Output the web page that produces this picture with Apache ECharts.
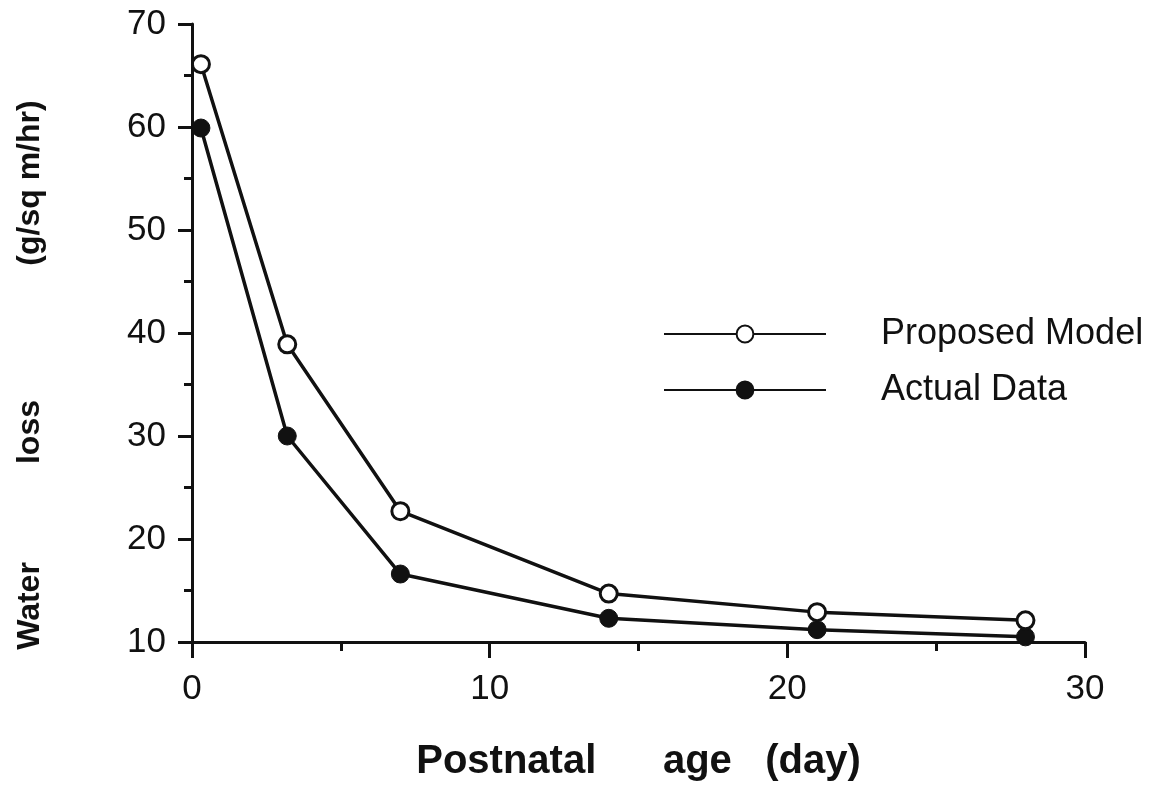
<!DOCTYPE html>
<html>
<head>
<meta charset="utf-8">
<script src="https://cdn.jsdelivr.net/npm/echarts@6/dist/echarts.min.js"></script>
<style>
  html, body { margin: 0; padding: 0; background: #ffffff; }
  #chart { width: 1163px; height: 787px; }
</style>
</head>
<body>
<div id="chart"></div>
<script>
// Postnatal age (days) at which water loss was evaluated
const ageDays = [0.3, 3.2, 7, 14, 21, 28];
// Water loss, g/sq m/hr
const proposedModel = [66.1, 38.9, 22.7, 14.7, 12.9, 12.1];
const actualData = [59.9, 30.0, 16.6, 12.3, 11.2, 10.5];

const seriesNames = ['Proposed Model', 'Actual Data'];
const xAxisTitle = 'Postnatal      age   (day)';
// Words of the vertical axis title, spread along the axis
const yAxisTitleWords = ['Water', 'loss', '(g/sq m/hr)'];

const ink = '#111111';
const fontFamily = '"Liberation Sans", Arial, Helvetica, sans-serif';

const pairs = (xs, ys) => xs.map((x, i) => [x, ys[i]]);

const chart = echarts.init(document.getElementById('chart'), null, { renderer: 'canvas' });

const axisLine = { show: true, lineStyle: { color: ink, width: 3 } };

// Vertical title: each word centred at its own height, read bottom to top
const yTitleCentres = [606, 432, 183];
const yTitleGraphics = yAxisTitleWords.map((word, i) => ({
  type: 'text',
  x: 30,
  y: yTitleCentres[i],
  rotation: Math.PI / 2,
  style: {
    text: word,
    fill: ink,
    font: 'bold 32px ' + fontFamily,
    textAlign: 'center',
    textVerticalAlign: 'middle'
  }
}));

chart.setOption({
  backgroundColor: '#ffffff',
  animation: false,
  grid: { left: 192, right: 78, top: 24, bottom: 144, containLabel: false },
  xAxis: {
    type: 'value',
    min: 0, max: 30, interval: 10,
    axisLine: axisLine,
    axisTick: { show: true, inside: false, length: 16, lineStyle: { color: ink, width: 3 } },
    minorTick: { show: true, splitNumber: 2, length: 9, lineStyle: { color: ink, width: 3 } },
    splitLine: { show: false },
    minorSplitLine: { show: false },
    axisLabel: { color: ink, fontSize: 35, fontFamily: fontFamily, margin: 30 },
    name: xAxisTitle,
    nameLocation: 'middle',
    nameGap: 100,
    nameTextStyle: { color: ink, fontSize: 40, fontWeight: 'bold', fontFamily: fontFamily }
  },
  yAxis: {
    type: 'value',
    min: 10, max: 70, interval: 10,
    axisLine: axisLine,
    axisTick: { show: true, inside: false, length: 14, lineStyle: { color: ink, width: 3 } },
    minorTick: { show: true, splitNumber: 2, length: 8, lineStyle: { color: ink, width: 3 } },
    splitLine: { show: false },
    minorSplitLine: { show: false },
    axisLabel: { color: ink, fontSize: 35, fontFamily: fontFamily, margin: 26 }
  },
  legend: {
    orient: 'vertical',
    left: 663,
    top: 316,
    padding: 0,
    itemWidth: 162,
    itemHeight: 21,
    itemGap: 20,
    textStyle: { color: ink, fontSize: 36, fontFamily: fontFamily, lineHeight: 36, padding: [0, 0, 0, 50] },
    data: seriesNames
  },
  graphic: yTitleGraphics,
  series: [
    {
      name: seriesNames[0],
      type: 'line',
      data: pairs(ageDays, proposedModel),
      symbol: 'circle',
      symbolSize: 17,
      lineStyle: { color: ink, width: 3.5 },
      itemStyle: { color: '#ffffff', borderColor: ink, borderWidth: 3 },
      z: 3
    },
    {
      name: seriesNames[1],
      type: 'line',
      data: pairs(ageDays, actualData),
      symbol: 'circle',
      symbolSize: 18,
      lineStyle: { color: ink, width: 3.5 },
      itemStyle: { color: ink, borderColor: ink, borderWidth: 1 },
      z: 2
    }
  ]
});
</script>
</body>
</html>
